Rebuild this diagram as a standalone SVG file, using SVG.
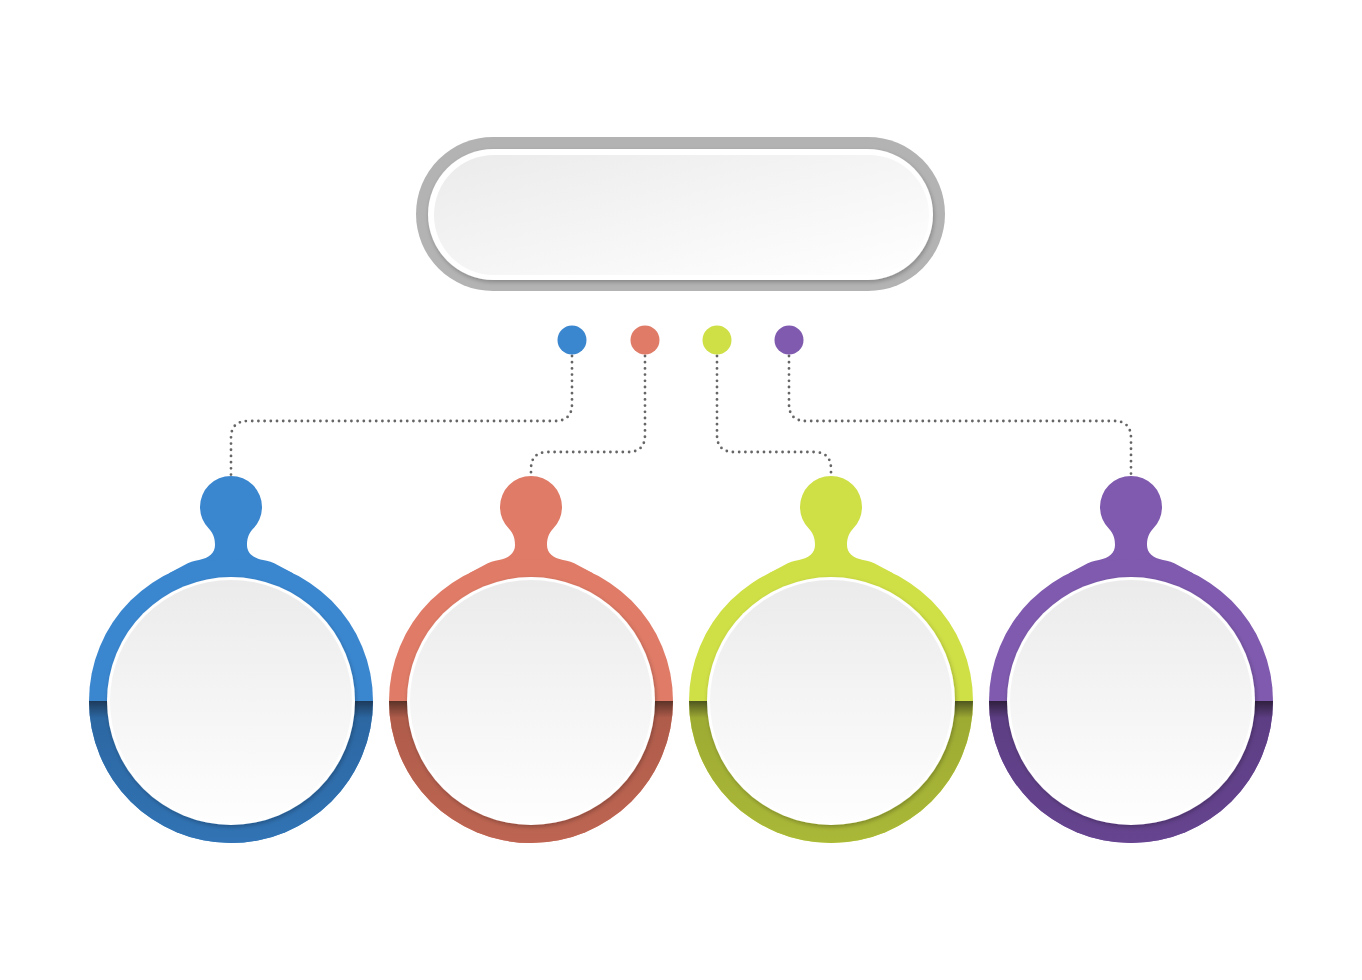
<svg xmlns="http://www.w3.org/2000/svg" xmlns:xlink="http://www.w3.org/1999/xlink" width="1362" height="980" viewBox="0 0 1362 980">
<style>
.conn{fill:none;stroke:#666;stroke-width:2.8;stroke-dasharray:0 6.2;stroke-linecap:round}
.rim{fill:#ffffff}
.face{fill:url(#faceGrad)}
</style>
<defs>
<linearGradient id="pillGrad" x1="0" y1="0" x2="1" y2="1">
<stop offset="0" stop-color="#ebebeb"/>
<stop offset="1" stop-color="#ffffff"/>
</linearGradient>
<linearGradient id="faceGrad" x1="0" y1="0" x2="0" y2="1">
<stop offset="0" stop-color="#ebebeb"/>
<stop offset="1" stop-color="#fefefe"/>
</linearGradient>
<linearGradient id="lowBlue" x1="0" y1="0" x2="0" y2="1">
<stop offset="0" stop-color="#1d3b5b"/><stop offset="0.12" stop-color="#2c67a2"/><stop offset="1" stop-color="#3173b4"/>
</linearGradient>
<linearGradient id="lowOrange" x1="0" y1="0" x2="0" y2="1">
<stop offset="0" stop-color="#5c3328"/><stop offset="0.12" stop-color="#b05c4b"/><stop offset="1" stop-color="#bd6552"/>
</linearGradient>
<linearGradient id="lowLime" x1="0" y1="0" x2="0" y2="1">
<stop offset="0" stop-color="#4f5620"/><stop offset="0.12" stop-color="#9eab33"/><stop offset="1" stop-color="#aab838"/>
</linearGradient>
<linearGradient id="lowPurple" x1="0" y1="0" x2="0" y2="1">
<stop offset="0" stop-color="#30203f"/><stop offset="0.12" stop-color="#5d3e84"/><stop offset="1" stop-color="#66448f"/>
</linearGradient>
<filter id="sh" x="-20%" y="-20%" width="140%" height="140%">
<feGaussianBlur in="SourceAlpha" stdDeviation="2"/>
<feOffset dx="1" dy="2" result="b"/>
<feFlood flood-color="#000" flood-opacity="0.25"/>
<feComposite in2="b" operator="in"/>
<feMerge><feMergeNode/><feMergeNode in="SourceGraphic"/></feMerge>
</filter>
<path id="head" d="M -21.8,529 A 31 31 0 1 1 21.8,529 C 17,534 16,540 16,545 C 16,553 22,558 32,560 C 42,561 52,568.4 62,573.3 L 62,640 L -62,640 L -62,573.3 C -52,568.4 -42,561 -32,560 C -22,558 -16,553 -16,545 C -16,540 -17,534 -21.8,529 Z"/>
<path id="lower" d="M -142,701 A 142 142 0 0 0 142,701 Z"/>
</defs>
<rect width="1362" height="980" fill="#ffffff"/>

<g id="title">
<rect x="416" y="137" width="529" height="154" rx="77" fill="#b3b3b3"/>
<rect x="428" y="149" width="505" height="131" rx="65.5" fill="#ffffff" filter="url(#sh)"/>
<rect x="434" y="155" width="495" height="120" rx="60" fill="url(#pillGrad)"/>
</g>

<g id="connectors">
<path class="conn" d="M 572,356 V 404 Q 572,421 555,421 H 248 Q 231,421 231,438 V 476"/>
<path class="conn" d="M 645,356 V 435 Q 645,452 628,452 H 548 Q 531,452 531,469 V 476"/>
<path class="conn" d="M 717,356 V 435 Q 717,452 734,452 H 814 Q 831,452 831,469 V 476"/>
<path class="conn" d="M 789,356 V 404 Q 789,421 806,421 H 1114 Q 1131,421 1131,438 V 476"/>
</g>

<g id="dots">
<circle id="dot1" cx="572" cy="340" r="14.5" fill="#3a87d0"/>
<circle id="dot2" cx="645" cy="340" r="14.5" fill="#df7b67"/>
<circle id="dot3" cx="717" cy="340" r="14.5" fill="#cfdf46"/>
<circle id="dot4" cx="789" cy="340" r="14.5" fill="#7f5aae"/>
</g>

<g id="node1" transform="translate(231,0)">
<use xlink:href="#head" href="#head" fill="#3a87d0"/>
<circle cx="0" cy="701" r="142" fill="#3a87d0"/>
<use xlink:href="#lower" href="#lower" fill="url(#lowBlue)"/>
<circle class="rim" cx="0" cy="701" r="124" filter="url(#sh)"/>
<circle class="face" cx="0" cy="701" r="121"/>
</g>
<g id="node2" transform="translate(531,0)">
<use xlink:href="#head" href="#head" fill="#df7b67"/>
<circle cx="0" cy="701" r="142" fill="#df7b67"/>
<use xlink:href="#lower" href="#lower" fill="url(#lowOrange)"/>
<circle class="rim" cx="0" cy="701" r="124" filter="url(#sh)"/>
<circle class="face" cx="0" cy="701" r="121"/>
</g>
<g id="node3" transform="translate(831,0)">
<use xlink:href="#head" href="#head" fill="#cfdf46"/>
<circle cx="0" cy="701" r="142" fill="#cfdf46"/>
<use xlink:href="#lower" href="#lower" fill="url(#lowLime)"/>
<circle class="rim" cx="0" cy="701" r="124" filter="url(#sh)"/>
<circle class="face" cx="0" cy="701" r="121"/>
</g>
<g id="node4" transform="translate(1131,0)">
<use xlink:href="#head" href="#head" fill="#7f5aae"/>
<circle cx="0" cy="701" r="142" fill="#7f5aae"/>
<use xlink:href="#lower" href="#lower" fill="url(#lowPurple)"/>
<circle class="rim" cx="0" cy="701" r="124" filter="url(#sh)"/>
<circle class="face" cx="0" cy="701" r="121"/>
</g>
</svg>
